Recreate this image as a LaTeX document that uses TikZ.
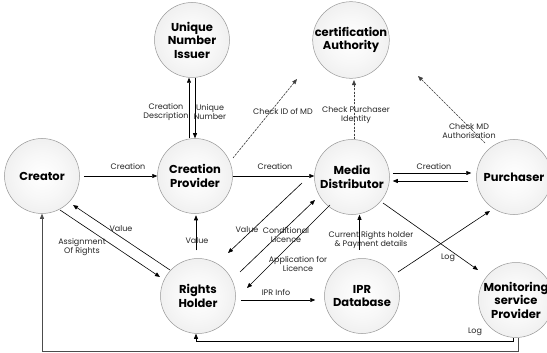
\documentclass[tikz,border=0pt]{standalone}
\usepackage{fontspec}
\setmainfont{Poppins}
\usetikzlibrary{arrows.meta}

% soft sphere fill: white centre fading to light grey at the rim
\pgfdeclareradialshading{softball}{\pgfpoint{0bp}{0bp}}{%
  color(0bp)=(white); color(15bp)=(white!97!black); color(40bp)=(black!10);
  color(50bp)=(black!17)}

\tikzset{
  entity/.style={circle, minimum size=75pt, inner sep=0pt, draw=black!40, line width=0.5pt,
    shading=softball, align=center,
    font=\fontsize{11.5}{13.5}\selectfont\bfseries},
  flow/.style={line width=0.6pt, -{Triangle[length=5pt,width=4pt]}},
  check/.style={flow, dash pattern=on 2pt off 1.5pt, draw=black!75, fill=black!75},
  lbl/.style={font=\fontsize{8}{9.5}\selectfont, align=center, inner sep=0pt, text=black!85},
}

\begin{document}
\begin{tikzpicture}[x=1pt,y=-1pt]
\fill[white] (0,0) rectangle (547,353);
\useasboundingbox (0,0) rectangle (547,353);

% actors
\node[entity] (uni)     at (192,40)  {Unique\\Number\\Issuer};
\node[entity] (ca)      at (351,40)  {certification\\Authority};
\node[entity] (creator) at (42,176)  {Creator};
\node[entity] (cp)      at (195,176) {Creation\\Provider};
\node[entity] (md)      at (352,177) {Media\\Distributor};
\node[entity] (pu)      at (514,177) {Purchaser};
\node[entity] (rh)      at (198,296) {Rights\\Holder};
\node[entity] (ipr)     at (362,296) {IPR\\Database};
\node[entity] (msp)     at (516,300) {Monitoring\\service\\Provider};

% creation chain
\draw[flow, shorten <=4pt] (creator.east) -- (cp.west);
\draw[flow] (cp.east) -- (cp.east -| md.west);
\draw[flow, shorten <=3pt, shorten >=5pt] ([yshift=4pt]md.east) -- ([yshift=4pt]md.east -| pu.west);
\draw[flow, shorten <=8pt, shorten >=3pt] ([yshift=-4pt]md.east -| pu.west) -- ([yshift=-4pt]md.east);
\node[lbl] at (128,166) {Creation};
\node[lbl] at (275,166) {Creation};
\node[lbl] at (434,166) {Creation};

% unique number exchange
\draw[flow] ([xshift=-3pt]uni.south |- cp.north) -- ([xshift=-3pt]uni.south);
\draw[flow] ([xshift=3pt]uni.south) -- ([xshift=3pt]uni.south |- cp.north);
\node[lbl] at (166,112) {Creation\\Description};
\node[lbl] at (210,112) {Unique\\Number};

% certification checks
\draw[check] ([shift={(38,-18)}]cp.center) -- ([shift={(-54,39)}]ca.center);
\draw[check, shorten >=1.5pt] ([xshift=2pt]md.north) -- ([xshift=2pt]md.north |- ca.south);
\draw[check] ([shift={(-29,-34)}]pu.center) -- ([shift={(67,36)}]ca.center);
\node[lbl] at (283,111) {Check ID of MD};
\node[lbl] at (356,115) {Check Purchaser\\Identity};
\node[lbl] at (469,131) {Check MD\\Authorisation};

% creator and rights holder
\draw[flow] ([shift={(18,34)}]creator.center) -- ([shift={(-38,-19)}]rh.center);
\draw[flow] ([shift={(-28,-26)}]rh.center) -- ([shift={(31,29)}]creator.center);
\node[lbl] at (121,229) {Value};
\node[lbl] at (82,247) {Assignment\\Of Rights};

% rights holder to creation provider
\draw[flow, shorten <=8pt, shorten >=1.5pt] ([xshift=-2pt]rh.north) -- ([xshift=-2pt]rh.north |- cp.south);
\node[lbl] at (197,241) {Value};

% licensing between distributor and rights holder
\draw[flow] ([shift={(-50,6)}]md.center) -- ([shift={(30,-43)}]rh.center);
\draw[flow] ([shift={(42,-24)}]rh.center) -- ([shift={(-37,23)}]md.center);
\draw[flow] ([shift={(-22,28)}]md.center) -- ([shift={(49,-8)}]rh.center);
\node[lbl] at (247,230) {Value};
\node[lbl] at (286,235) {Conditional\\Licence};
\node[lbl] at (298,264) {Application for\\Licence};

% rights database
\draw[flow, shorten <=5pt, shorten >=9pt] ([yshift=-4pt]rh.east) -- ([yshift=-4pt]rh.east -| ipr.west);
\node[lbl] at (276,292) {IPR Info};
\draw[flow, shorten <=8.5pt] ([xshift=-2.5pt]ipr.north) -- ([xshift=-2.5pt]ipr.north |- md.south);
\node[lbl] at (371,240) {Current Rights holder\\\& Payment details};
\draw[flow] ([shift={(36,-24)}]ipr.center) -- ([shift={(-24,34)}]pu.center);

% monitoring
\draw[flow] ([shift={(31,26)}]md.center) -- ([shift={(-38,-30)}]msp.center);
\node[lbl] at (448,258) {Log};
\draw[flow] ([xshift=-3pt]msp.south) -- ++(0,3.5) -| ([xshift=-2pt]rh.south);
\node[lbl] at (475,332) {Log};
\draw[flow, draw=black!70] ([xshift=2pt]msp.south) -- ++(0,14) -| (creator.south);
\end{tikzpicture}
\end{document}
